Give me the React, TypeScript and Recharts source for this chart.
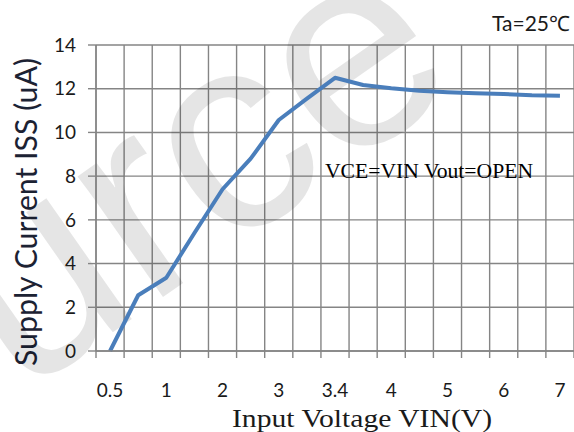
import { CartesianGrid, Line, LineChart, XAxis, YAxis } from "recharts";

// categories on the x axis (odd ones carry no label in the original)
const vinLabels = ["0.5", "", "1", "", "2", "", "3", "", "3.4", "", "4", "", "5", "", "6", "", "7"];
const issValues = [0, 2.55, 3.35, 5.4, 7.4, 8.8, 10.57, 11.55, 12.5, 12.17, 12.02, 11.91, 11.84, 11.79, 11.76, 11.7, 11.68];
const yTicks = [0, 2, 4, 6, 8, 10, 12, 14];

const data = issValues.map((iss, idx) => ({ idx, iss }));
const n = vinLabels.length;
const xTicks = vinLabels.map((_, i) => i);

const W = 574;
const H = 432;
const TOP = 45;
const LEFT = 96;
const BOTTOM_AXIS = 81;
const PLOT_W = W - LEFT;
const PLOT_BOTTOM = H - BOTTOM_AXIS;

const GRID = "#858585";
const TEXT = "#1a1a1a";

function XTick(props: any) {
  const { x, y, payload } = props;
  const label = vinLabels[payload.value];
  if (!label) return null;
  return (
    <text x={x} y={y + 46} textAnchor="middle" fill={TEXT} fontSize={19} fontFamily="Lato, 'Liberation Sans', sans-serif">
      {label}
    </text>
  );
}

// vertical grid at category boundaries, with small tick marks below the axis
function CategoryGrid() {
  return (
    <g>
      {Array.from({ length: n + 1 }, (_, i) => {
        const x = LEFT + (i / n) * PLOT_W;
        return <line key={i} x1={x} x2={x} y1={TOP} y2={PLOT_BOTTOM + 7} stroke={GRID} strokeWidth={1.4} />;
      })}
    </g>
  );
}

function Texts() {
  return (
    <g>
      <text x={37} y={212} transform="rotate(-90 37 212)" textAnchor="middle" fill="#1c2233" fontSize={30}
        fontFamily="Lato, 'Liberation Sans', sans-serif" textLength={308} lengthAdjust="spacingAndGlyphs">
        Supply Current ISS (uA)
      </text>
      <text x={362} y={427} textAnchor="middle" fill={TEXT} fontSize={25}
        fontFamily="'Liberation Serif', serif" textLength={260} lengthAdjust="spacingAndGlyphs">
        Input Voltage VIN(V)
      </text>
      <text x={325} y={178} fill="#000" fontSize={22}
        fontFamily="'Liberation Serif', serif" textLength={208} lengthAdjust="spacingAndGlyphs">
        VCE=VIN Vout=OPEN
      </text>
      <text x={570} y={31} textAnchor="end" fill={TEXT} fontSize={21}
        fontFamily="Lato, 'Liberation Sans', sans-serif">
        Ta=25℃
      </text>
      <text transform="translate(-261 594) rotate(-35)" fill="#000" fillOpacity={0.1} fontSize={280}
        fontFamily="'Liberation Sans', sans-serif">
        Source
      </text>
    </g>
  );
}

export default function App() {
  return (
    <div style={{ position: "absolute", left: 0, top: 0, width: W, height: H, background: "#fff" }}>
      <LineChart width={W} height={H} data={data} margin={{ top: TOP, right: 0, bottom: 0, left: 0 }}>
        <CartesianGrid stroke={GRID} strokeWidth={1.4} vertical={false} />
        <CategoryGrid />
        <XAxis
          dataKey="idx"
          type="number"
          domain={[-0.5, n - 0.5]}
          ticks={xTicks}
          interval={0}
          height={BOTTOM_AXIS}
          tickSize={0}
          tickMargin={0}
          tickLine={false}
          axisLine={{ stroke: GRID, strokeWidth: 1.4 }}
          tick={<XTick />}
        />
        <YAxis
          type="number"
          domain={[0, 14]}
          ticks={yTicks}
          width={LEFT}
          tickSize={8}
          tickMargin={12}
          tickLine={{ stroke: GRID, strokeWidth: 1.4 }}
          axisLine={{ stroke: GRID, strokeWidth: 1.4 }}
          tick={{ fill: TEXT, fontSize: 19, fontFamily: "Lato, 'Liberation Sans', sans-serif" }}
        />
        <Line
          dataKey="iss"
          type="linear"
          stroke="#4a7ebb"
          strokeWidth={4}
          strokeLinejoin="round"
          dot={false}
          activeDot={false}
          isAnimationActive={false}
        />
        <Texts />
      </LineChart>
    </div>
  );
}
